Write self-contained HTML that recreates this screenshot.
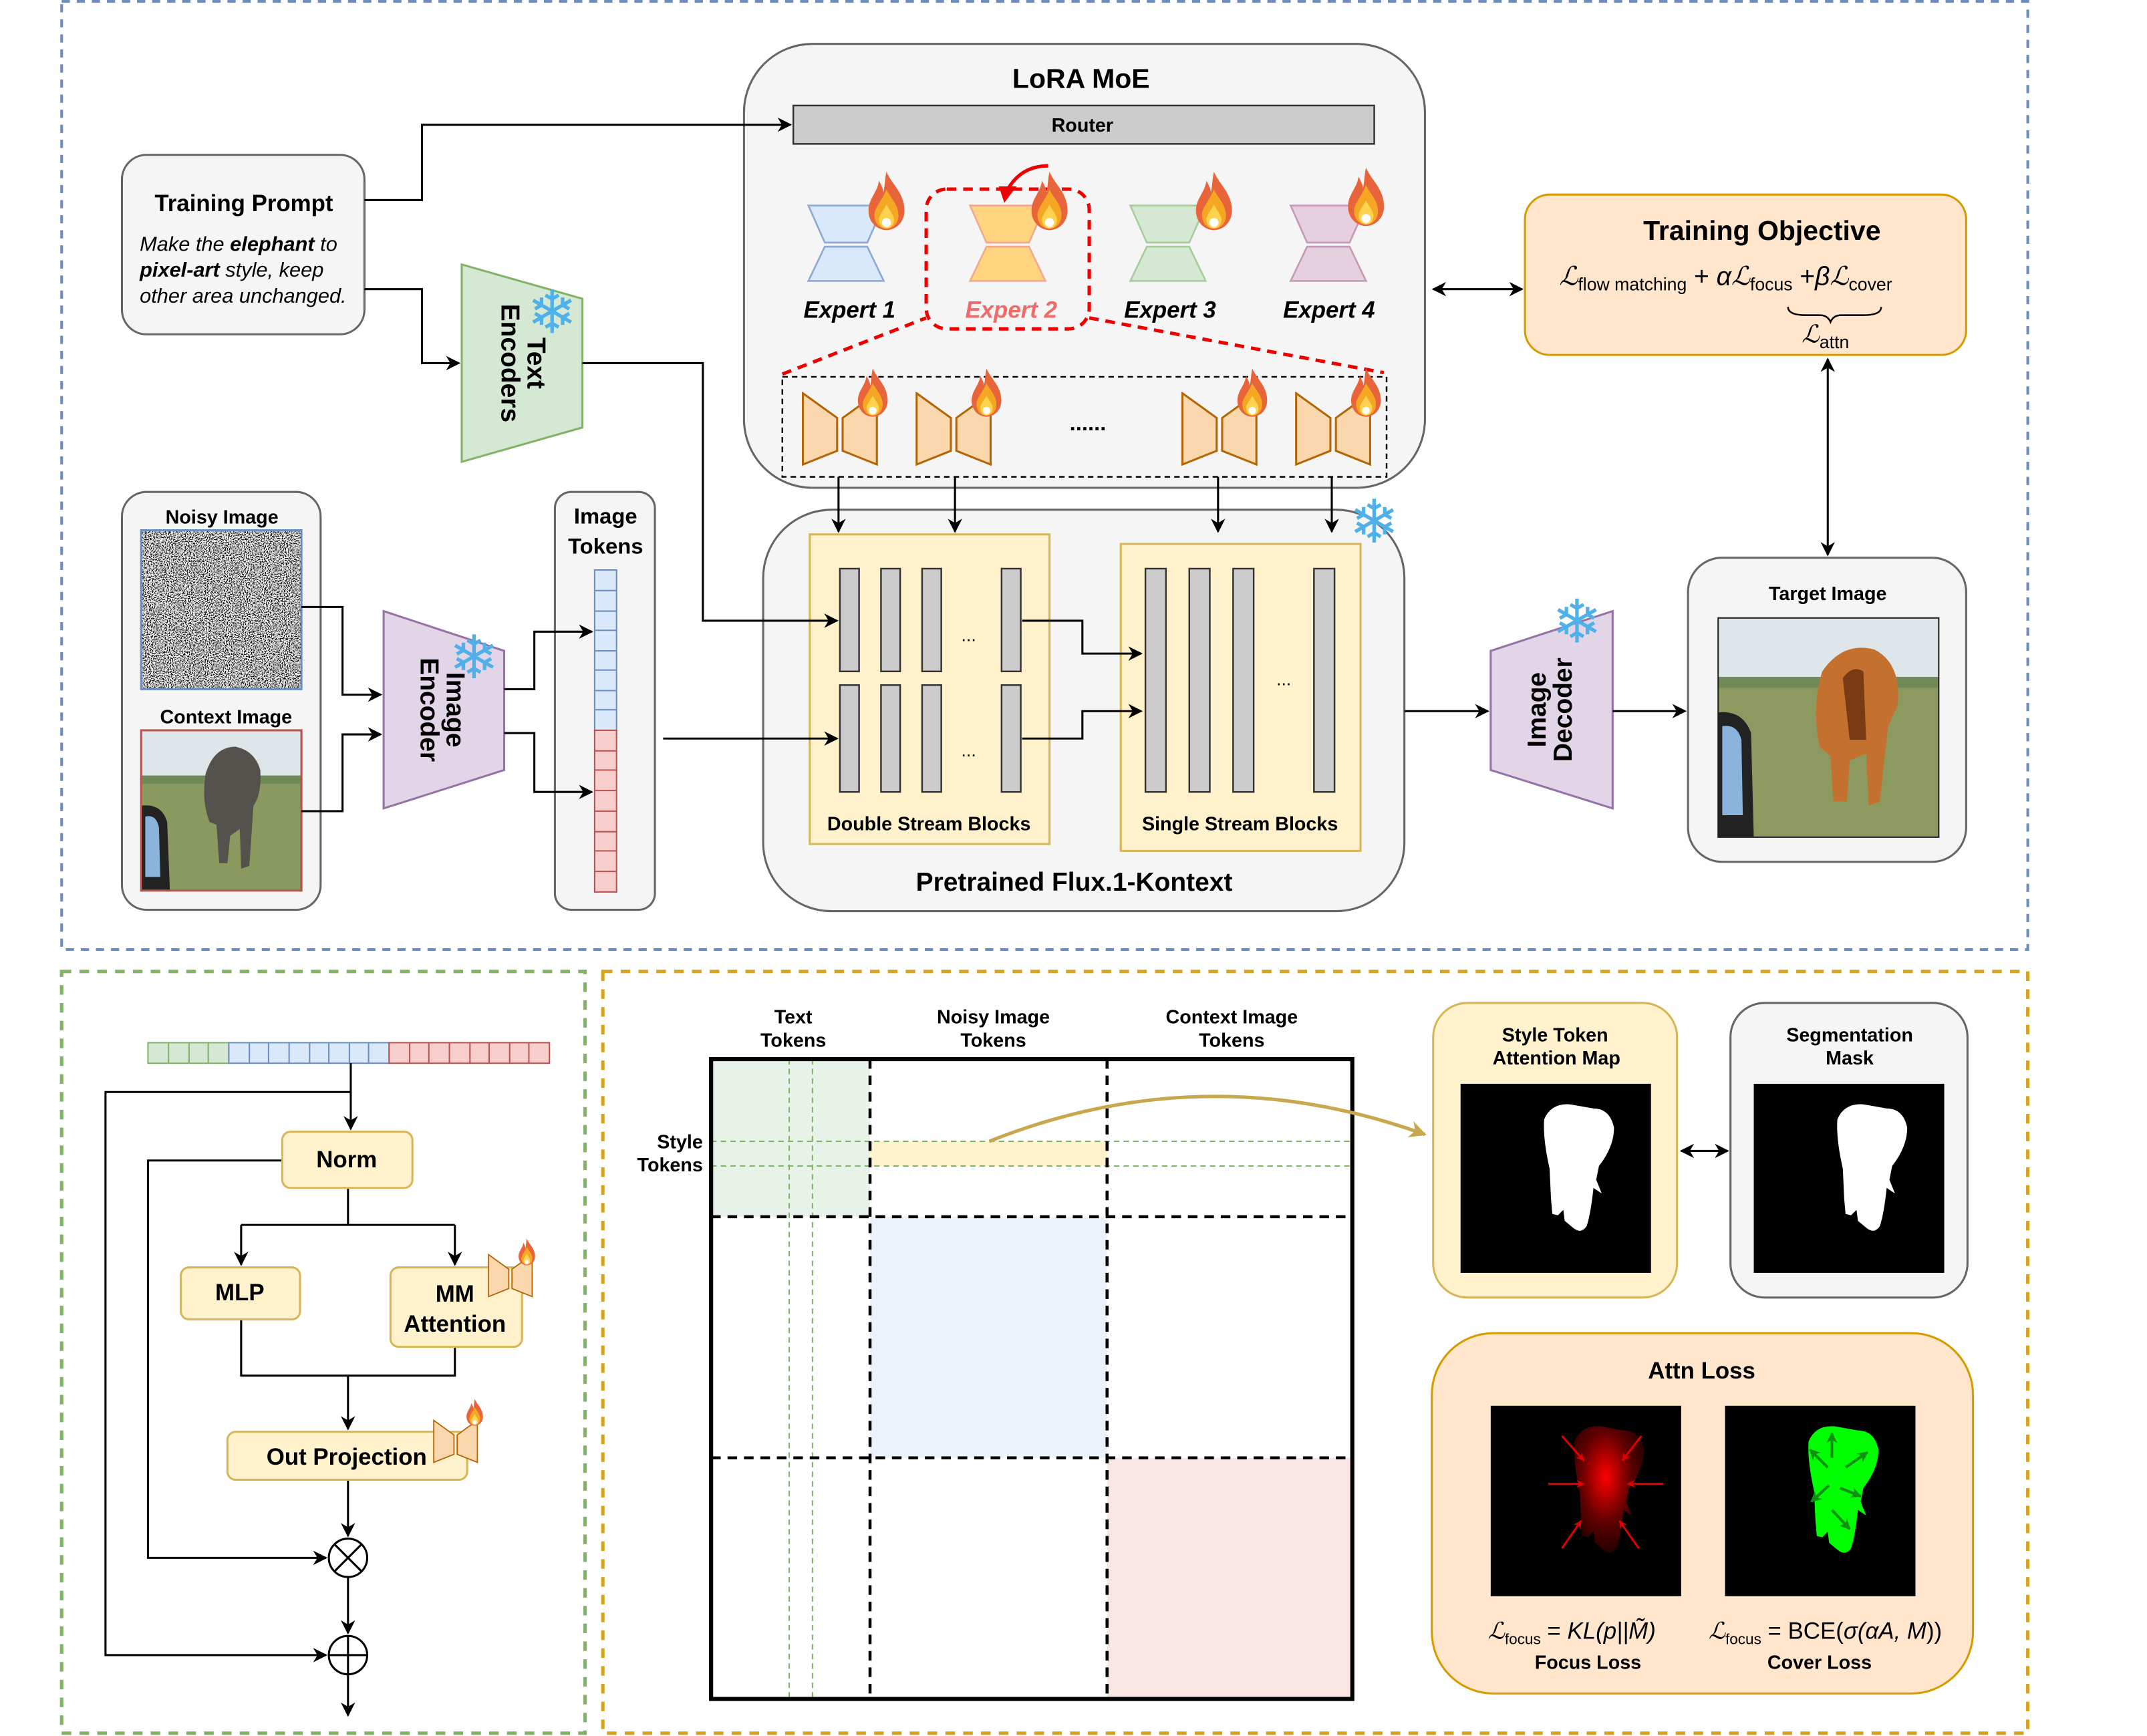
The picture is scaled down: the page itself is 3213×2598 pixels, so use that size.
<!DOCTYPE html>
<html><head><meta charset="utf-8"><style>html,body{margin:0;padding:0;background:#fff}svg{display:block}text{font-family:"Liberation Sans",sans-serif}</style></head><body>
<svg width="3213" height="2598" viewBox="0 0 1567 1267" xmlns="http://www.w3.org/2000/svg">
<defs>
<marker id="ar" viewBox="0 0 10 10" refX="9" refY="5" markerWidth="7" markerHeight="7" orient="auto-start-reverse"><path d="M0,0 L10,5 L0,10 L3,5 Z" fill="#000"/></marker>
<marker id="arg" viewBox="0 0 10 10" refX="9" refY="5" markerWidth="5" markerHeight="5" orient="auto"><path d="M0,0 L10,5 L0,10 L3,5 Z" fill="#c8a84e"/></marker>
<marker id="arr" viewBox="0 0 10 10" refX="9" refY="5" markerWidth="4" markerHeight="4" orient="auto"><path d="M0,0 L10,5 L0,10 L3,5 Z" fill="#d00"/></marker>
<marker id="arn" viewBox="0 0 10 10" refX="9" refY="5" markerWidth="4" markerHeight="4" orient="auto"><path d="M0,0 L10,5 L0,10 L3,5 Z" fill="#109010"/></marker>
<symbol id="fl" viewBox="0 0 30 42"><path d="M15,2 C18,10 27,16 27,28 C27,36 21,41 15,41 C9,41 3,36 3,28 C3,20 9,16 10,8 C12,12 13,14 13,16 C14,11 14,6 15,2 Z" fill="#e8643a"/><path d="M15,14 C18,20 23,24 23,31 C23,37 19,40 15,40 C11,40 7,37 7,31 C7,26 11,23 15,14 Z" fill="#f5a623"/><path d="M15,24 C17,28 20,31 20,34 C20,38 17,40 15,40 C13,40 10,38 10,34 C10,31 13,28 15,24 Z" fill="#ffd34d"/><circle cx="15" cy="36" r="3" fill="#fff"/></symbol>
<symbol id="bt" viewBox="0 0 56 54"><polygon points="1,1 26,19 26,43 1,53" fill="#fad7ac" stroke="#b46504" stroke-width="1.5"/><polygon points="30,19 55,1 55,53 30,43" fill="#fad7ac" stroke="#b46504" stroke-width="1.5"/></symbol>
<symbol id="el" viewBox="0 0 139 139"><path d="M61,26 Q66,14 80,15 L97,18 Q109,18 112,32 Q112,46 101,60 L99,70 L103,80 L97,76 Q95,95 92,104 Q88,110 82,105 L76,100 L75,92 L71,96 L67,95 L66,84 L65,62 Q60,40 61,26 Z" fill="#fff"/></symbol>
<filter id="nz2" x="0" y="0" width="1" height="1" filterUnits="objectBoundingBox"><feTurbulence type="fractalNoise" baseFrequency="1.3" numOctaves="1" seed="7" result="t"/><feColorMatrix in="t" type="saturate" values="0"/><feComponentTransfer><feFuncR type="linear" slope="7" intercept="-3"/><feFuncG type="linear" slope="7" intercept="-3"/><feFuncB type="linear" slope="7" intercept="-3"/><feFuncA type="linear" slope="0" intercept="1"/></feComponentTransfer></filter>
<radialGradient id="rg" cx="0.45" cy="0.4" r="0.6"><stop offset="0" stop-color="#ff0000"/><stop offset="0.6" stop-color="#600000"/><stop offset="1" stop-color="#250000"/></radialGradient>
</defs>

<rect x="45" y="1" width="1435" height="692" fill="none" stroke="#6c8ebf" stroke-width="2" stroke-dasharray="6,5"/>
<rect x="45" y="709" width="382" height="556" fill="none" stroke="#82b366" stroke-width="2.5" stroke-dasharray="7,6"/>
<rect x="440" y="709" width="1040" height="556" fill="none" stroke="#d6a520" stroke-width="2.5" stroke-dasharray="7,6"/>

<rect x="543" y="32" width="497" height="324" rx="50" fill="#f5f5f5" stroke="#666" stroke-width="1.5"/>
<text x="789" y="64" text-anchor="middle" font-size="20" font-weight="bold">LoRA MoE</text>
<rect x="579" y="77" width="424" height="28" fill="#ccc" stroke="#333" stroke-width="1.2"/>
<text x="790" y="96" text-anchor="middle" font-size="14" font-weight="bold">Router</text>
<path d="M765,121 Q745,121 735,139" fill="none" stroke="#e00" stroke-width="2.5"/>
<path d="M729,136 L742,136 L733,148 Z" fill="#e00"/>
<rect x="676" y="138" width="119" height="102" rx="15" fill="none" stroke="#e00" stroke-width="2.5" stroke-dasharray="7,5"/>
<path d="M571,273 L676,232 M795,232 L1010,272" stroke="#e00" stroke-width="2.5" stroke-dasharray="7,5"/>
<g stroke-width="1.3">
<polygon points="590,150 645,150 633,177 602,177" fill="#dae8fc" stroke="#8fa9d4"/><polygon points="602,180 633,180 645,205 590,205" fill="#dae8fc" stroke="#8fa9d4"/>
<polygon points="708,150 763,150 751,177 720,177" fill="#ffd57f" stroke="#f5a88e"/><polygon points="720,180 751,180 763,205 708,205" fill="#ffd57f" stroke="#f5a88e"/>
<polygon points="825,150 880,150 868,177 837,177" fill="#d5e8d4" stroke="#a9cc9d"/><polygon points="837,180 868,180 880,205 825,205" fill="#d5e8d4" stroke="#a9cc9d"/>
<polygon points="942,150 997,150 985,177 954,177" fill="#e6d0de" stroke="#c79ab9"/><polygon points="954,180 985,180 997,205 942,205" fill="#e6d0de" stroke="#c79ab9"/>
</g>
<use href="#fl" x="630" y="123" width="34" height="46"/><use href="#fl" x="749" y="123" width="34" height="46"/><use href="#fl" x="869" y="123" width="34" height="46"/><use href="#fl" x="980" y="120" width="34" height="46"/>
<g font-size="17" font-weight="bold" font-style="italic" text-anchor="middle"><text x="620" y="232">Expert 1</text><text x="738" y="232" fill="#f06a6a">Expert 2</text><text x="854" y="232">Expert 3</text><text x="970" y="232">Expert 4</text></g>
<rect x="571" y="275" width="441" height="73" fill="none" stroke="#000" stroke-width="1.2" stroke-dasharray="4,3"/>
<use href="#bt" x="585" y="286" width="56" height="54"/><use href="#bt" x="668" y="286" width="56" height="54"/><use href="#bt" x="862" y="286" width="56" height="54"/><use href="#bt" x="945" y="286" width="56" height="54"/>
<use href="#fl" x="623" y="267" width="28" height="38"/><use href="#fl" x="706" y="267" width="28" height="38"/><use href="#fl" x="900" y="267" width="28" height="38"/><use href="#fl" x="983" y="267" width="28" height="38"/>
<text x="794" y="314" text-anchor="middle" font-size="16" font-weight="bold">......</text>

<rect x="89" y="113" width="177" height="131" rx="18" fill="#f5f5f5" stroke="#666" stroke-width="1.5"/>
<text x="178" y="154" text-anchor="middle" font-size="17" font-weight="bold">Training Prompt</text>
<g font-size="15" font-style="italic"><text x="102" y="183">Make the <tspan font-weight="bold">elephant</tspan> to</text><text x="102" y="202"><tspan font-weight="bold">pixel-art</tspan> style, keep</text><text x="102" y="221">other area unchanged.</text></g>
<path d="M266,146 H308 V91 H577" fill="none" stroke="#000" stroke-width="1.5" marker-end="url(#ar)"/>
<path d="M266,211 H308 V265 H335" fill="none" stroke="#000" stroke-width="1.5" marker-end="url(#ar)"/>

<polygon points="337,193 425,218 425,312 337,337" fill="#d5e8d4" stroke="#82b366" stroke-width="1.5"/>
<g transform="translate(381,265) rotate(90)" font-size="19" font-weight="bold" text-anchor="middle"><text x="0" y="-4">Text</text><text x="0" y="15">Encoders</text></g>
<text x="403" y="243" text-anchor="middle" font-size="44" fill="#4fb0ea" font-family="DejaVu Sans">❄</text>

<rect x="89" y="359" width="145" height="305" rx="18" fill="#f5f5f5" stroke="#666" stroke-width="1.5"/>
<text x="162" y="382" text-anchor="middle" font-size="14" font-weight="bold">Noisy Image</text>
<rect x="103" y="387" width="117" height="116" fill="#777" filter="url(#nz2)"/>
<rect x="103" y="387" width="117" height="116" fill="none" stroke="#6c8ebf" stroke-width="1.5"/>
<text x="165" y="528" text-anchor="middle" font-size="14" font-weight="bold">Context Image</text>
<rect x="103" y="533" width="117" height="117" fill="#8a9a5e"/>
<rect x="103" y="533" width="117" height="35" fill="#dfe6ea"/>
<rect x="103" y="566" width="117" height="6" fill="#6f8a56"/>
<path d="M150,565 Q156,545 172,545 Q186,548 190,562 Q191,580 185,588 L182,632 L176,634 L175,605 L168,610 L166,630 L160,630 L158,602 L153,600 Q147,585 150,565 Z" fill="#55524e"/>
<path d="M103,588 Q118,586 122,600 L124,650 L103,650 Z" fill="#222"/><path d="M106,596 Q114,594 116,604 L117,640 L106,640 Z" fill="#8bb4dc"/>
<rect x="103" y="533" width="117" height="117" fill="none" stroke="#b85450" stroke-width="1.5"/>
<path d="M220,443 H250 V507 H278" fill="none" stroke="#000" stroke-width="1.5" marker-end="url(#ar)"/>
<path d="M220,592 H250 V536 H278" fill="none" stroke="#000" stroke-width="1.5" marker-end="url(#ar)"/>

<polygon points="280,446 368,475 368,562 280,590" fill="#e1d5e7" stroke="#9673a6" stroke-width="1.5"/>
<g transform="translate(322,518) rotate(90)" font-size="19" font-weight="bold" text-anchor="middle"><text x="0" y="-4">Image</text><text x="0" y="15">Encoder</text></g>
<text x="346" y="495" text-anchor="middle" font-size="44" fill="#4fb0ea" font-family="DejaVu Sans">❄</text>

<rect x="405" y="359" width="73" height="305" rx="12" fill="#f5f5f5" stroke="#666" stroke-width="1.5"/>
<text x="442" y="382" text-anchor="middle" font-size="16" font-weight="bold">Image</text>
<text x="442" y="404" text-anchor="middle" font-size="16" font-weight="bold">Tokens</text>
<g stroke="#6c8ebf" fill="#dae8fc" stroke-width="1"><rect x="434" y="416" width="16" height="117"/><path d="M434,431H450M434,446H450M434,460H450M434,475H450M434,489H450M434,504H450M434,518H450"/></g>
<g stroke="#b85450" fill="#f8cecc" stroke-width="1"><rect x="434" y="533" width="16" height="118"/><path d="M434,548H450M434,562H450M434,577H450M434,592H450M434,607H450M434,621H450M434,636H450"/></g>
<path d="M368,503 H390 V461 H432" fill="none" stroke="#000" stroke-width="1.5" marker-end="url(#ar)"/>
<path d="M368,535 H390 V578 H432" fill="none" stroke="#000" stroke-width="1.5" marker-end="url(#ar)"/>

<rect x="557" y="372" width="468" height="293" rx="50" fill="#f5f5f5" stroke="#666" stroke-width="1.5"/>
<rect x="591" y="390" width="175" height="226" fill="#fff2cc" stroke="#d6b656" stroke-width="1.5"/>
<g fill="#ccc" stroke="#333" stroke-width="1.2"><rect x="613" y="415" width="14" height="75"/><rect x="643" y="415" width="14" height="75"/><rect x="673" y="415" width="14" height="75"/><rect x="731" y="415" width="14" height="75"/>
<rect x="613" y="500" width="14" height="78"/><rect x="643" y="500" width="14" height="78"/><rect x="673" y="500" width="14" height="78"/><rect x="731" y="500" width="14" height="78"/></g>
<text x="707" y="468" text-anchor="middle" font-size="13">...</text><text x="707" y="552" text-anchor="middle" font-size="13">...</text>
<text x="678" y="606" text-anchor="middle" font-size="14" font-weight="bold">Double Stream Blocks</text>
<rect x="818" y="397" width="175" height="224" fill="#fff2cc" stroke="#d6b656" stroke-width="1.5"/>
<g fill="#ccc" stroke="#333" stroke-width="1.2"><rect x="836" y="415" width="15" height="163"/><rect x="868" y="415" width="15" height="163"/><rect x="900" y="415" width="15" height="163"/><rect x="959" y="415" width="15" height="163"/></g>
<text x="937" y="500" text-anchor="middle" font-size="13">...</text>
<text x="905" y="606" text-anchor="middle" font-size="14" font-weight="bold">Single Stream Blocks</text>
<path d="M746,453 H790 V477 H833" fill="none" stroke="#000" stroke-width="1.5" marker-end="url(#ar)"/>
<path d="M746,539 H790 V519 H833" fill="none" stroke="#000" stroke-width="1.5" marker-end="url(#ar)"/>
<g stroke="#000" stroke-width="1.5" marker-end="url(#ar)"><path d="M612,348 V388"/><path d="M697,348 V388"/><path d="M889,348 V388"/><path d="M972,348 V388"/></g>
<path d="M425,265 H513 V453 H611" fill="none" stroke="#000" stroke-width="1.5" marker-end="url(#ar)"/>
<path d="M484,539 H611" fill="none" stroke="#000" stroke-width="1.5" marker-end="url(#ar)"/>
<text x="1003" y="396" text-anchor="middle" font-size="44" fill="#4fb0ea" font-family="DejaVu Sans">❄</text>
<text x="784" y="650" text-anchor="middle" font-size="19" font-weight="bold">Pretrained Flux.1-Kontext</text>
<path d="M1025,519 H1086" fill="none" stroke="#000" stroke-width="1.5" marker-end="url(#ar)"/>

<polygon points="1088,475 1177,446 1177,590 1088,562" fill="#e1d5e7" stroke="#9673a6" stroke-width="1.5"/>
<g transform="translate(1132,518) rotate(-90)" font-size="19" font-weight="bold" text-anchor="middle"><text x="0" y="-4">Image</text><text x="0" y="15">Decoder</text></g>
<text x="1151" y="469" text-anchor="middle" font-size="44" fill="#4fb0ea" font-family="DejaVu Sans">❄</text>
<path d="M1177,519 H1230" fill="none" stroke="#000" stroke-width="1.5" marker-end="url(#ar)"/>

<rect x="1232" y="407" width="203" height="222" rx="25" fill="#f5f5f5" stroke="#666" stroke-width="1.5"/>
<text x="1334" y="438" text-anchor="middle" font-size="14" font-weight="bold">Target Image</text>
<rect x="1254" y="451" width="161" height="160" fill="#8c9a60"/>
<rect x="1254" y="451" width="161" height="45" fill="#dfe6ea"/>
<rect x="1254" y="494" width="161" height="8" fill="#6f8a56"/>
<path d="M1330,490 Q1345,468 1368,474 Q1388,484 1385,515 L1378,530 L1372,585 L1364,588 L1362,550 L1350,555 L1348,585 L1338,585 L1336,552 L1328,545 Q1322,515 1330,490 Z" fill="#c4702e"/>
<path d="M1345,495 Q1352,485 1360,490 L1362,540 L1350,540 Z" fill="#7a3a14"/>
<path d="M1254,520 Q1272,518 1278,535 L1280,611 L1254,611 Z" fill="#222"/><path d="M1257,530 Q1268,528 1271,540 L1272,595 L1257,595 Z" fill="#8bb4dc"/>
<rect x="1254" y="451" width="161" height="160" fill="none" stroke="#222" stroke-width="1"/>

<rect x="1113" y="142" width="322" height="117" rx="18" fill="#ffe6cc" stroke="#d79b00" stroke-width="1.5"/>
<text x="1286" y="175" text-anchor="middle" font-size="20" font-weight="bold">Training Objective</text>
<text x="1138" y="208" font-family="Liberation Serif,serif" font-size="19" font-style="italic">ℒ<tspan font-size="13" font-style="normal" dy="4">flow matching</tspan><tspan dy="-4" font-style="normal"> + </tspan>αℒ<tspan font-size="13" font-style="normal" dy="4">focus</tspan><tspan dy="-4" font-style="normal"> +</tspan>βℒ<tspan font-size="13" font-style="normal" dy="4">cover</tspan></text>
<path d="M1305,224 Q1305,230 1318,230 L1328,230 Q1334,230 1336,235 Q1338,230 1344,230 L1360,230 Q1373,230 1373,224" fill="none" stroke="#000" stroke-width="1.2"/>
<text x="1315" y="250" font-family="Liberation Serif,serif" font-size="18" font-style="italic">ℒ<tspan font-size="13" font-style="normal" dy="4">attn</tspan></text>
<path d="M1046,211 H1111" stroke="#000" stroke-width="1.5" marker-start="url(#ar)" marker-end="url(#ar)"/>
<path d="M1334,262 V405" stroke="#000" stroke-width="1.5" marker-start="url(#ar)" marker-end="url(#ar)"/>

<g stroke-width="1">
<g fill="#d5e8d4" stroke="#82b366"><rect x="108" y="761" width="59" height="15"/><path d="M123,761V776M138,761V776M152,761V776"/></g>
<g fill="#dae8fc" stroke="#6c8ebf"><rect x="167" y="761" width="117" height="15"/><path d="M182,761V776M196,761V776M211,761V776M226,761V776M240,761V776M255,761V776M269,761V776"/></g>
<g fill="#f8cecc" stroke="#b85450"><rect x="284" y="761" width="117" height="15"/><path d="M299,761V776M313,761V776M328,761V776M343,761V776M357,761V776M372,761V776M386,761V776"/></g>
</g>
<g fill="none" stroke="#000" stroke-width="1.5">
<path d="M256,776 V824" marker-end="url(#ar)"/>
<path d="M256,797 H77 V1208 H238" marker-end="url(#ar)"/>
<path d="M206,847 H108 V1137 H238" marker-end="url(#ar)"/>
<path d="M254,867 V894 M176,894 H332"/>
<path d="M176,894 V923" marker-end="url(#ar)"/><path d="M332,894 V923" marker-end="url(#ar)"/>
<path d="M176,963 V1004 H332 V983"/>
<path d="M254,1004 V1043" marker-end="url(#ar)"/>
<path d="M254,1080 V1121" marker-end="url(#ar)"/>
<path d="M254,1151 V1192" marker-end="url(#ar)"/>
<path d="M254,1222 V1252" marker-end="url(#ar)"/>
<circle cx="254" cy="1137" r="14"/><path d="M244,1127 L264,1147 M264,1127 L244,1147"/>
<circle cx="254" cy="1208" r="14"/><path d="M240,1208 H268 M254,1194 V1222"/>
</g>
<g fill="#fff2cc" stroke="#d6b656" stroke-width="1.5">
<rect x="206" y="826" width="95" height="41" rx="6"/><rect x="132" y="925" width="87" height="38" rx="6"/><rect x="285" y="925" width="96" height="58" rx="6"/><rect x="166" y="1045" width="175" height="35" rx="6"/></g>
<g font-size="17" font-weight="bold" text-anchor="middle"><text x="253" y="852">Norm</text><text x="175" y="949">MLP</text><text x="332" y="950">MM</text><text x="332" y="972">Attention</text><text x="253" y="1069">Out Projection</text></g>
<use href="#bt" x="356" y="915" width="33" height="32"/><use href="#fl" x="377" y="903" width="15" height="21"/>
<use href="#bt" x="316" y="1035" width="33" height="34"/><use href="#fl" x="339" y="1020" width="15" height="21"/>

<rect x="519" y="773" width="116" height="115" fill="#e9f2e8"/>
<rect x="635" y="888" width="173" height="176" fill="#ebf2fc"/>
<rect x="808" y="1064" width="179" height="176" fill="#fae6e5"/>
<rect x="635" y="833" width="173" height="18" fill="#fff2cc"/>
<path d="M519,833 H987 M519,851 H987 M576,773 V1240 M593,773 V1240" stroke="#82b366" stroke-width="1" stroke-dasharray="4,3"/>
<path d="M635,773 V1240 M808,773 V1240 M519,888 H987 M519,1064 H987" stroke="#000" stroke-width="2.2" stroke-dasharray="7,5"/>
<rect x="519" y="773" width="468" height="467" fill="none" stroke="#000" stroke-width="3"/>
<path d="M722,833 Q880,770 1040,828" fill="none" stroke="#c8a84e" stroke-width="2.5" marker-end="url(#arg)"/>
<g font-size="14" font-weight="bold" text-anchor="middle"><text x="579" y="747">Text</text><text x="579" y="764">Tokens</text><text x="725" y="747">Noisy Image</text><text x="725" y="764">Tokens</text><text x="899" y="747">Context Image</text><text x="899" y="764">Tokens</text></g>
<g font-size="14" font-weight="bold" text-anchor="end"><text x="513" y="838">Style</text><text x="513" y="855">Tokens</text></g>

<rect x="1046" y="732" width="178" height="215" rx="25" fill="#fff2cc" stroke="#d6b656" stroke-width="1.5"/>
<text x="1135" y="760" text-anchor="middle" font-size="14" font-weight="bold">Style Token</text><text x="1136" y="777" text-anchor="middle" font-size="14" font-weight="bold">Attention Map</text>
<rect x="1066" y="791" width="139" height="138" fill="#000"/><use href="#el" x="1066" y="791" width="139" height="139"/>
<rect x="1263" y="732" width="173" height="215" rx="25" fill="#f5f5f5" stroke="#666" stroke-width="1.5"/>
<text x="1350" y="760" text-anchor="middle" font-size="14" font-weight="bold">Segmentation</text><text x="1350" y="777" text-anchor="middle" font-size="14" font-weight="bold">Mask</text>
<rect x="1280" y="791" width="139" height="138" fill="#000"/><use href="#el" x="1280" y="791" width="139" height="139"/>
<path d="M1227,840 H1261" stroke="#000" stroke-width="1.5" marker-start="url(#ar)" marker-end="url(#ar)"/>

<rect x="1045" y="973" width="395" height="263" rx="45" fill="#ffe6cc" stroke="#d79b00" stroke-width="1.5"/>
<text x="1242" y="1006" text-anchor="middle" font-size="17" font-weight="bold">Attn Loss</text>
<rect x="1088" y="1026" width="139" height="139" fill="#000"/>
<svg x="1088" y="1026" width="139" height="139" viewBox="0 0 139 139"><path d="M61,26 Q66,14 80,15 L97,18 Q109,18 112,32 Q112,46 101,60 L99,70 L103,80 L97,76 Q95,95 92,104 Q88,110 82,105 L76,100 L75,92 L71,96 L67,95 L66,84 L65,62 Q60,40 61,26 Z" fill="url(#rg)"/>
<g stroke="#d00" stroke-width="1.5"><path d="M52,22 L68,40" marker-end="url(#arr)"/><path d="M110,22 L96,40" marker-end="url(#arr)"/><path d="M42,57 L68,57" marker-end="url(#arr)"/><path d="M126,57 L100,57" marker-end="url(#arr)"/><path d="M52,104 L66,84" marker-end="url(#arr)"/><path d="M108,104 L94,84" marker-end="url(#arr)"/></g></svg>
<rect x="1259" y="1026" width="139" height="139" fill="#000"/>
<svg x="1259" y="1026" width="139" height="139" viewBox="0 0 139 139"><path d="M61,26 Q66,14 80,15 L97,18 Q109,18 112,32 Q112,46 101,60 L99,70 L103,80 L97,76 Q95,95 92,104 Q88,110 82,105 L76,100 L75,92 L71,96 L67,95 L66,84 L65,62 Q60,40 61,26 Z" fill="#00ff00"/>
<g stroke="#109010" stroke-width="2"><path d="M78,38 L78,20" marker-end="url(#arn)"/><path d="M88,45 L104,34" marker-end="url(#arn)"/><path d="M75,45 L62,32" marker-end="url(#arn)"/><path d="M76,58 L63,70" marker-end="url(#arn)"/><path d="M84,60 L99,66" marker-end="url(#arn)"/><path d="M78,76 L91,90" marker-end="url(#arn)"/></g></svg>
<text x="1086" y="1196" font-family="Liberation Serif,serif" font-size="17" font-style="italic">ℒ<tspan font-size="11" font-style="normal" dy="4">focus</tspan><tspan dy="-4" font-style="normal"> = </tspan>KL(p||M̃)</text>
<text x="1247" y="1196" font-family="Liberation Serif,serif" font-size="17" font-style="italic">ℒ<tspan font-size="11" font-style="normal" dy="4">focus</tspan><tspan dy="-4" font-style="normal"> = BCE(</tspan>σ(αA, M<tspan font-style="normal">))</tspan></text>
<text x="1159" y="1218" text-anchor="middle" font-size="14" font-weight="bold">Focus Loss</text>
<text x="1328" y="1218" text-anchor="middle" font-size="14" font-weight="bold">Cover Loss</text>
</svg>
</body></html>
